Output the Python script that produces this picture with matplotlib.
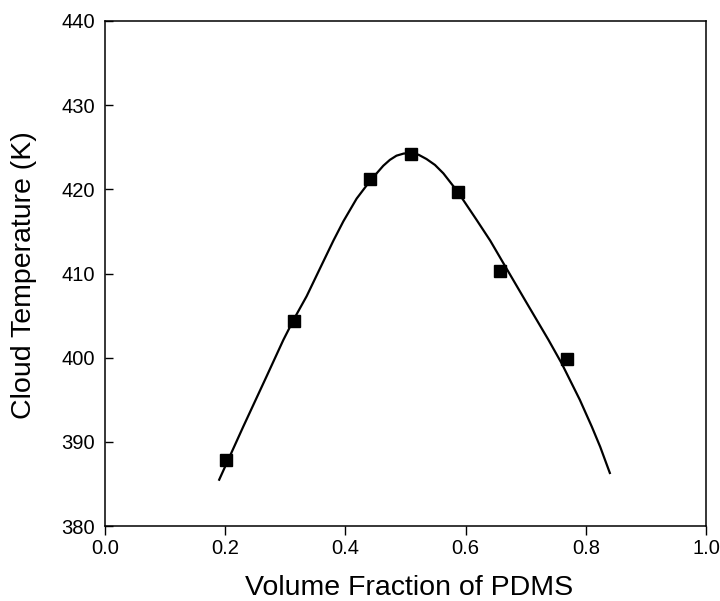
import matplotlib
matplotlib.use("Agg")
import matplotlib.pyplot as plt

plt.rcParams['font.family'] = ['Liberation Sans', 'DejaVu Sans']

# measured data points
phi_pdms = [0.201, 0.3145, 0.441, 0.5095, 0.587, 0.657, 0.769]
cloud_T = [387.9, 404.4, 421.2, 424.2, 419.7, 410.3, 399.9]

# fitted curve
curve_x = [0.190, 0.230, 0.269, 0.2967, 0.3145, 0.3355, 0.3577, 0.380, 0.3966,
           0.4187, 0.441, 0.463, 0.474, 0.485, 0.497, 0.510, 0.522, 0.535, 0.549,
           0.563, 0.587, 0.618, 0.641, 0.668, 0.700, 0.738, 0.760, 0.790, 0.810,
           0.824, 0.840]
curve_y = [385.5, 391.8, 397.8, 402.1, 404.6, 407.3, 410.6, 413.9, 416.2,
           418.9, 421.0, 422.8, 423.5, 424.0, 424.25, 424.3, 424.1, 423.6, 422.9,
           421.9, 419.7, 416.4, 413.9, 410.6, 406.7, 402.1, 399.3, 395.0, 391.8,
           389.4, 386.3]

x_ticks = [0.0, 0.2, 0.4, 0.6, 0.8, 1.0]
y_ticks = [380, 390, 400, 410, 420, 430, 440]

fig = plt.figure(figsize=(7.2, 6.01), dpi=100)
ax = fig.add_axes([105/720, 75/601, 601/720, 505/601])

ax.plot(curve_x, curve_y, color='black', lw=1.6, zorder=2,
        solid_joinstyle='round')
ax.plot(phi_pdms, cloud_T, linestyle='none', marker='s', markersize=9,
        color='black', zorder=3)

ax.set_xlim(0.0, 1.0)
ax.set_ylim(380, 440)
ax.set_xticks(x_ticks)
ax.set_xticklabels([f"{v:.1f}" for v in x_ticks])
ax.set_yticks(y_ticks)
ax.set_yticklabels([str(v) for v in y_ticks])

ax.tick_params(axis='x', direction='out', length=6.5, width=1.0, pad=3.0, labelsize=14.5)
ax.tick_params(axis='y', direction='in', length=6, width=1.0, pad=7, labelsize=14.5)
for s in ax.spines.values():
    s.set_linewidth(1.1)

ax.set_xlabel("Volume Fraction of PDMS", fontsize=20.5)
ax.set_ylabel("Cloud Temperature (K)", fontsize=20.5)
ax.xaxis.set_label_coords((409 - 105) / 601, -(575 - 526) / 505)
ax.yaxis.set_label_coords((11 - 105) / 601, (526 - 275) / 505)
ax.yaxis.label.set_va('top')

fig.savefig("out.png", dpi=100)
